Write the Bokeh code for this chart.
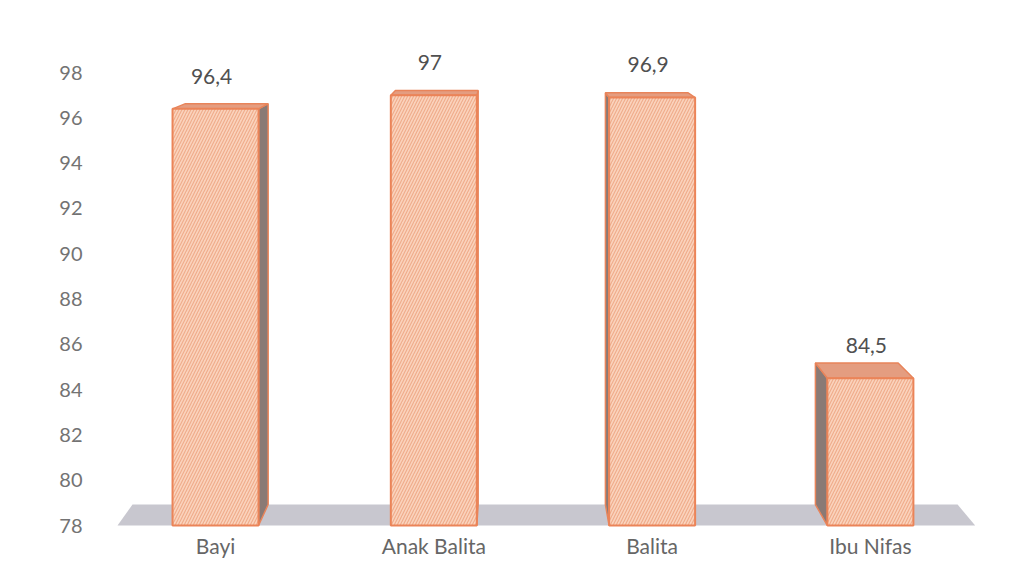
from bokeh.plotting import figure
from bokeh.models import FixedTicker, Range1d
from bokeh.core.properties import value
from bokeh.embed import file_html
from bokeh.resources import INLINE

# ---- data ----
categories = ["Bayi", "Anak Balita", "Balita", "Ibu Nifas"]
values = [96.4, 97.0, 96.9, 84.5]
value_labels = ["96,4", "97", "96,9", "84,5"]
y_ticks = [78, 80, 82, 84, 86, 88, 90, 92, 94, 96, 98]
baseline = 78

# ---- style / 3D perspective constants ----
BAR_W = 0.394
VPX, VPY, K = 1.356, 102.4, 0.038   # vanishing point (data coords) and depth factor
FLOOR_X0, FLOOR_X1 = -0.449, 3.48

def back(x, y):
    return x + (VPX - x) * K, y + (VPY - y) * K

p = figure(width=1018, height=568, output_backend="svg", toolbar_location=None,
           x_range=Range1d(-0.527, 3.596), y_range=Range1d(77.78, 100.3),
           min_border_left=100, min_border_right=18, min_border_top=20,
           min_border_bottom=38)
p.outline_line_color = None
p.grid.grid_line_color = None
p.background_fill_color = "white"
p.border_fill_color = "white"

# floor
fx = [FLOOR_X0, FLOOR_X1, back(FLOOR_X1, baseline)[0], back(FLOOR_X0, baseline)[0]]
fy = [baseline, baseline, back(FLOOR_X1, baseline)[1], back(FLOOR_X0, baseline)[1]]
p.patch(fx, fy, fill_color="#c8c7cf", line_color=None)

xs_c = list(range(len(categories)))

side_xs, side_ys, top_xs, top_ys = [], [], [], []
for xc, v in zip(xs_c, values):
    xl, xr = xc - BAR_W / 2, xc + BAR_W / 2
    btl, btr = back(xl, v), back(xr, v)
    top_xs.append([xl, xr, btr[0], btl[0]])
    top_ys.append([v, v, btr[1], btl[1]])
    edge = xr if VPX > xr else (xl if VPX < xl else None)
    if edge is not None:
        bt, bb = back(edge, v), back(edge, baseline)
        side_xs.append([edge, edge, bt[0], bb[0]])
        side_ys.append([baseline, v, bt[1], bb[1]])

p.patches(side_xs, side_ys, fill_color="#8a7a75", line_color="#e8845a", line_width=1.5)
p.patches(top_xs, top_ys, fill_color="#e49d80", line_color="#e8845a", line_width=1.5)

p.vbar(x=xs_c, top=values, bottom=baseline, width=BAR_W,
       fill_color="#fad3bd", line_color="#eb8458", line_width=2,
       hatch_pattern="/", hatch_color="#f0ad8c", hatch_scale=6, hatch_weight=1.2)

p.text(x=xs_c, y=values, text=value_labels, text_align="center", text_baseline="bottom",
       x_offset=-4, y_offset=-25, text_font=value("Lato"), text_font_size="21px",
       text_color="#505050")

# axes
p.yaxis.ticker = FixedTicker(ticks=y_ticks)
p.yaxis.axis_line_color = None
p.yaxis.major_tick_line_color = None
p.yaxis.minor_tick_line_color = None
p.yaxis.major_tick_out = 0
p.yaxis.major_label_standoff = 18
p.yaxis.major_label_text_font = "Lato"
p.yaxis.major_label_text_font_size = "20px"
p.yaxis.major_label_text_color = "#737373"

p.xaxis.ticker = FixedTicker(ticks=xs_c)
p.xaxis.major_label_overrides = {i: c for i, c in zip(xs_c, categories)}
p.xaxis.axis_line_color = None
p.xaxis.major_tick_line_color = None
p.xaxis.minor_tick_line_color = None
p.xaxis.major_tick_out = 0
p.xaxis.major_label_standoff = 2
p.xaxis.major_label_text_font = "Lato"
p.xaxis.major_label_text_font_size = "21px"
p.xaxis.major_label_text_color = "#666666"

open("out.html", "w").write(file_html(p, INLINE))
